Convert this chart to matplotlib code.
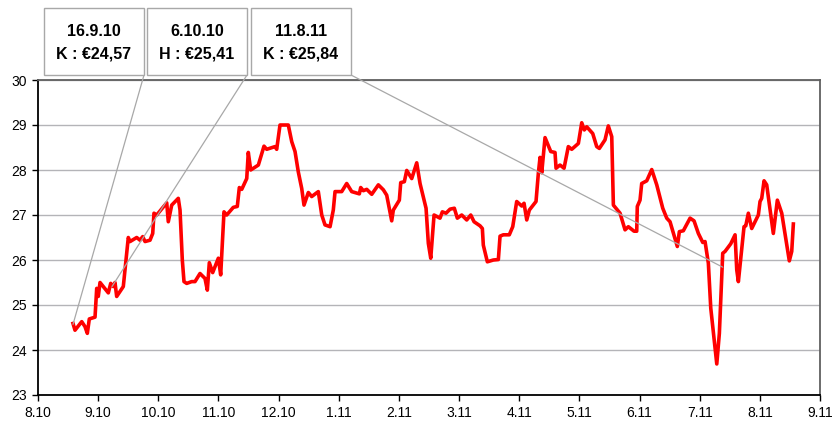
import matplotlib
matplotlib.use("Agg")
import matplotlib.pyplot as plt
from matplotlib.patches import Rectangle, ConnectionPatch

plt.rcParams['font.family'] = ['Liberation Sans', 'DejaVu Sans']

# x position in months after 8.10 (tick index), y price in EUR
x_pos = [0.582, 0.615, 0.727, 0.781, 0.820, 0.853, 0.948, 0.976, 1.002, 1.031,
         1.169, 1.209, 1.252, 1.280, 1.308, 1.418, 1.501, 1.530, 1.641, 1.696,
         1.741, 1.779, 1.862, 1.907, 1.928, 1.973, 2.140, 2.166, 2.223, 2.332,
         2.361, 2.399, 2.427, 2.472, 2.555, 2.610, 2.693, 2.776, 2.815, 2.848,
         2.904, 2.998, 3.037, 3.092, 3.137, 3.247, 3.313, 3.347, 3.387, 3.470,
         3.496, 3.536, 3.663, 3.757, 3.802, 3.940, 3.968, 4.023, 4.161, 4.218,
         4.273, 4.327, 4.384, 4.422, 4.494, 4.550, 4.660, 4.717, 4.771, 4.855,
         4.909, 4.938, 5.049, 5.132, 5.215, 5.342, 5.365, 5.408, 5.465, 5.548,
         5.658, 5.741, 5.797, 5.880, 5.907, 6.007, 6.030, 6.090, 6.130, 6.213,
         6.296, 6.351, 6.451, 6.489, 6.529, 6.584, 6.683, 6.722, 6.783, 6.850,
         6.921, 6.971, 7.044, 7.127, 7.194, 7.249, 7.348, 7.387, 7.403, 7.470,
         7.570, 7.653, 7.681, 7.736, 7.835, 7.892, 7.958, 8.041, 8.080, 8.125,
         8.168, 8.279, 8.318, 8.346, 8.374, 8.429, 8.524, 8.595, 8.612, 8.678,
         8.745, 8.816, 8.873, 8.983, 9.039, 9.082, 9.122, 9.222, 9.288, 9.332,
         9.426, 9.481, 9.538, 9.565, 9.676, 9.759, 9.814, 9.909, 9.953, 9.963,
         10.008, 10.036, 10.120, 10.203, 10.286, 10.386, 10.452, 10.507, 10.628, 10.662,
         10.728, 10.840, 10.906, 10.978, 11.051, 11.089, 11.144, 11.184, 11.284, 11.327,
         11.383, 11.421, 11.516, 11.588, 11.616, 11.643, 11.737, 11.766, 11.809, 11.865,
         11.975, 12.003, 12.031, 12.070, 12.114, 12.224, 12.291, 12.364, 12.490, 12.530,
         12.557]
price = [24.59, 24.44, 24.63, 24.52, 24.37, 24.69, 24.73, 25.37, 25.19, 25.50,
         25.27, 25.48, 25.41, 25.50, 25.19, 25.41, 26.50, 26.41, 26.50, 26.44,
         26.52, 26.41, 26.44, 26.59, 27.04, 27.00, 27.27, 26.85, 27.22, 27.37,
         27.11, 26.00, 25.52, 25.48, 25.52, 25.52, 25.70, 25.59, 25.33, 25.94,
         25.72, 26.04, 25.67, 27.07, 27.00, 27.17, 27.19, 27.61, 27.57, 27.81,
         28.39, 28.00, 28.11, 28.53, 28.46, 28.52, 28.46, 29.00, 29.00, 28.63,
         28.41, 27.96, 27.59, 27.22, 27.50, 27.41, 27.52, 27.00, 26.78, 26.74,
         27.11, 27.52, 27.52, 27.70, 27.52, 27.47, 27.61, 27.54, 27.57, 27.46,
         27.67, 27.56, 27.44, 26.87, 27.11, 27.33, 27.72, 27.74, 27.99, 27.81,
         28.16, 27.70, 27.15, 26.37, 26.04, 27.00, 26.93, 27.07, 27.04, 27.13,
         27.15, 26.93, 27.00, 26.89, 27.00, 26.85, 26.76, 26.70, 26.33, 25.96,
         26.00, 26.01, 26.53, 26.56, 26.56, 26.74, 27.30, 27.20, 27.26, 26.89,
         27.11, 27.30, 27.93, 28.28, 27.94, 28.72, 28.41, 28.39, 28.04, 28.11,
         28.04, 28.52, 28.46, 28.59, 29.05, 28.89, 28.96, 28.81, 28.52, 28.48,
         28.67, 28.98, 28.74, 27.22, 27.04, 26.67, 26.74, 26.64, 26.64, 27.19,
         27.33, 27.70, 27.76, 28.01, 27.67, 27.15, 26.93, 26.85, 26.30, 26.63,
         26.65, 26.93, 26.87, 26.59, 26.39, 26.41, 25.93, 24.93, 23.69, 24.37,
         26.15, 26.19, 26.36, 26.56, 25.78, 25.52, 26.74, 26.76, 27.04, 26.70,
         27.00, 27.30, 27.37, 27.76, 27.67, 26.59, 27.33, 27.04, 25.98, 26.19,
         26.80]

tick_labels = ['8.10', '9.10', '10.10', '11.10', '12.10', '1.11', '2.11',
               '3.11', '4.11', '5.11', '6.11', '7.11', '8.11', '9.11']
y_ticks = [23, 24, 25, 26, 27, 28, 29, 30]

# annotations: date, prefix, value, x position of the marked point
ann_dates = ['16.9.10', '6.10.10', '11.8.11']
ann_prefix = ['K', 'H', 'K']
ann_values = [24.57, 25.41, 25.84]
ann_x = [0.582, 1.230, 11.383]

W, H = 834, 421
fig = plt.figure(figsize=(W / 100, H / 100), dpi=100)
ax = fig.add_axes([38 / W, 1 - 395 / H, (820 - 38) / W, (395 - 80) / H])

ax.plot(x_pos, price, color='#ff0000', lw=2.6, solid_joinstyle='round', zorder=3)

ax.set_xlim(0, len(tick_labels) - 1)
ax.set_ylim(y_ticks[0], y_ticks[-1])
ax.set_xticks(range(len(tick_labels)))
ax.set_xticklabels(tick_labels)
ax.set_yticks(y_ticks)
ax.yaxis.grid(True, color='#b4b4b8', lw=1.0)
ax.set_axisbelow(True)
ax.tick_params(axis='both', direction='out', length=4, width=1.0, labelsize=10,
               colors='black', pad=4)
for s in ['left', 'bottom']:
    ax.spines[s].set_color('black')
    ax.spines[s].set_linewidth(1.3)
for s in ['top', 'right']:
    ax.spines[s].set_color('#606060')
    ax.spines[s].set_linewidth(1.3)

# annotation boxes in figure pixel space
box_left = [44, 147, 251]
box_w, box_top, box_h = 100, 8, 67
for i in range(len(ann_dates)):
    x0 = box_left[i]
    rect = Rectangle((x0, H - box_top - box_h), box_w, box_h,
                     transform=None, facecolor='white', edgecolor='#a8a8a8',
                     lw=1.0, zorder=5)
    fig.patches.append(rect)
    val = f"{ann_values[i]:.2f}".replace('.', ',')
    fig.text((x0 + box_w / 2) / W, 1 - (box_top + box_h / 2 + 1) / H,
             f"{ann_dates[i]}\n{ann_prefix[i]} : €{val}",
             ha='center', va='center', fontsize=11.5, fontweight='bold',
             linespacing=1.6, zorder=6)
    # leader line from box bottom-right corner to data point
    fx = (x0 + box_w) / W
    fy = 1 - (box_top + box_h) / H
    con = ConnectionPatch(xyA=(fx, fy), coordsA='figure fraction',
                          xyB=(ann_x[i], ann_values[i]), coordsB=ax.transData,
                          color='#a8a8a8', lw=0.9, zorder=4)
    fig.add_artist(con)

fig.savefig('out.png', dpi=100)
